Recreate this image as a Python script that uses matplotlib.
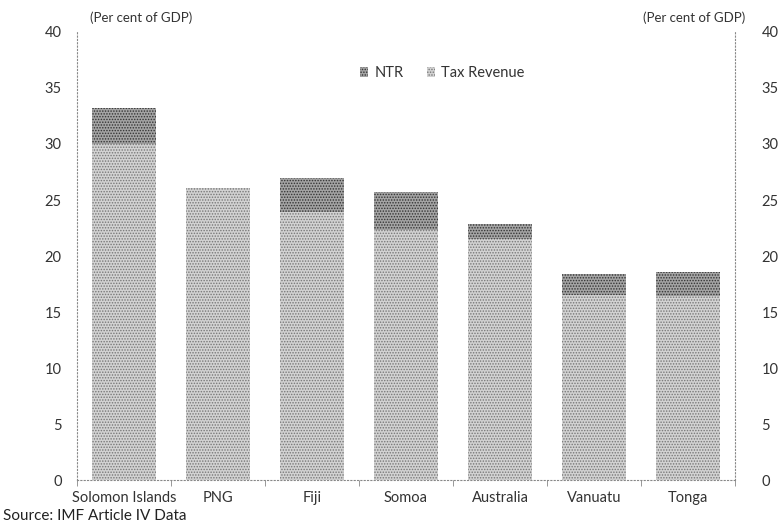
import matplotlib
matplotlib.use("Agg")
import matplotlib.pyplot as plt
import numpy as np

plt.rcParams['font.family'] = ['Lato', 'DejaVu Sans']
plt.rcParams['hatch.linewidth'] = 0.7

# ==================== data ====================
countries = ["Solomon Islands", "PNG", "Fiji", "Somoa", "Australia", "Vanuatu", "Tonga"]
tax_revenue = [30.0, 26.1, 23.9, 22.3, 21.5, 16.5, 16.4]
ntr = [3.2, 0.0, 3.1, 3.4, 1.4, 1.9, 2.2]
y_ticks = [0, 5, 10, 15, 20, 25, 30, 35, 40]

# ==================== plot ====================
fig = plt.figure(figsize=(7.79, 5.27), dpi=100)
ax = fig.add_axes([77 / 779, 47 / 527, 658 / 779, 448 / 527])

x = np.arange(len(countries))
ax.bar(x, tax_revenue, width=0.69, facecolor='#d2d2d2', edgecolor='#777777',
       hatch='......', linewidth=0, label='Tax Revenue')
ax.bar(x, ntr, bottom=tax_revenue, width=0.69, facecolor='#a4a4a4', edgecolor='#333333',
       hatch='......', linewidth=0, label='NTR')

ax.set_xlim(-0.5, len(countries) - 0.5)
ax.set_ylim(0, 40)
ax.set_yticks(y_ticks)
ax.set_xticks(x)
ax.set_xticklabels(countries, fontsize=10.5, color='#333333')
ax.set_xticks(np.arange(len(countries) + 1) - 0.5, minor=True)
ax.tick_params(axis='x', which='major', length=0, pad=8)
ax.tick_params(axis='x', which='minor', length=4, color='#888888', direction='out')
ax.tick_params(axis='y', length=0, labelsize=10.5, labelcolor='#333333', pad=11)

for side in ['top', 'right']:
    ax.spines[side].set_visible(False)
for side in ['left', 'bottom']:
    ax.spines[side].set_linestyle((0, (1, 2)))
    ax.spines[side].set_color('#888888')
    ax.spines[side].set_linewidth(0.8)

ax2 = ax.twinx()
ax2.set_ylim(0, 40)
ax2.set_yticks(y_ticks)
ax2.tick_params(axis='y', length=0, labelsize=10.5, labelcolor='#333333', pad=19)
for side in ['top', 'left', 'bottom']:
    ax2.spines[side].set_visible(False)
ax2.spines['right'].set_linestyle((0, (1, 2)))
ax2.spines['right'].set_color('#888888')
ax2.spines['right'].set_linewidth(0.8)

handles, labels = ax.get_legend_handles_labels()
ax.legend(handles[::-1], labels[::-1], loc='center', bbox_to_anchor=(0.555, 0.908),
          ncol=2, frameon=False, fontsize=10.5, handlelength=0.6, handleheight=0.6,
          columnspacing=1.6, handletextpad=0.4, labelcolor='#333333')

fig.text(90 / 779, 1 - 18 / 527, "(Per cent of GDP)", fontsize=9.5, color='#333333', va='center')
fig.text(745 / 779, 1 - 18 / 527, "(Per cent of GDP)", fontsize=9.5, color='#333333',
         va='center', ha='right')
fig.text(3 / 779, 1 - 516 / 527, "Source: IMF Article IV Data", fontsize=11,
         color='#222222', va='center')

fig.savefig("out.png", dpi=100)
